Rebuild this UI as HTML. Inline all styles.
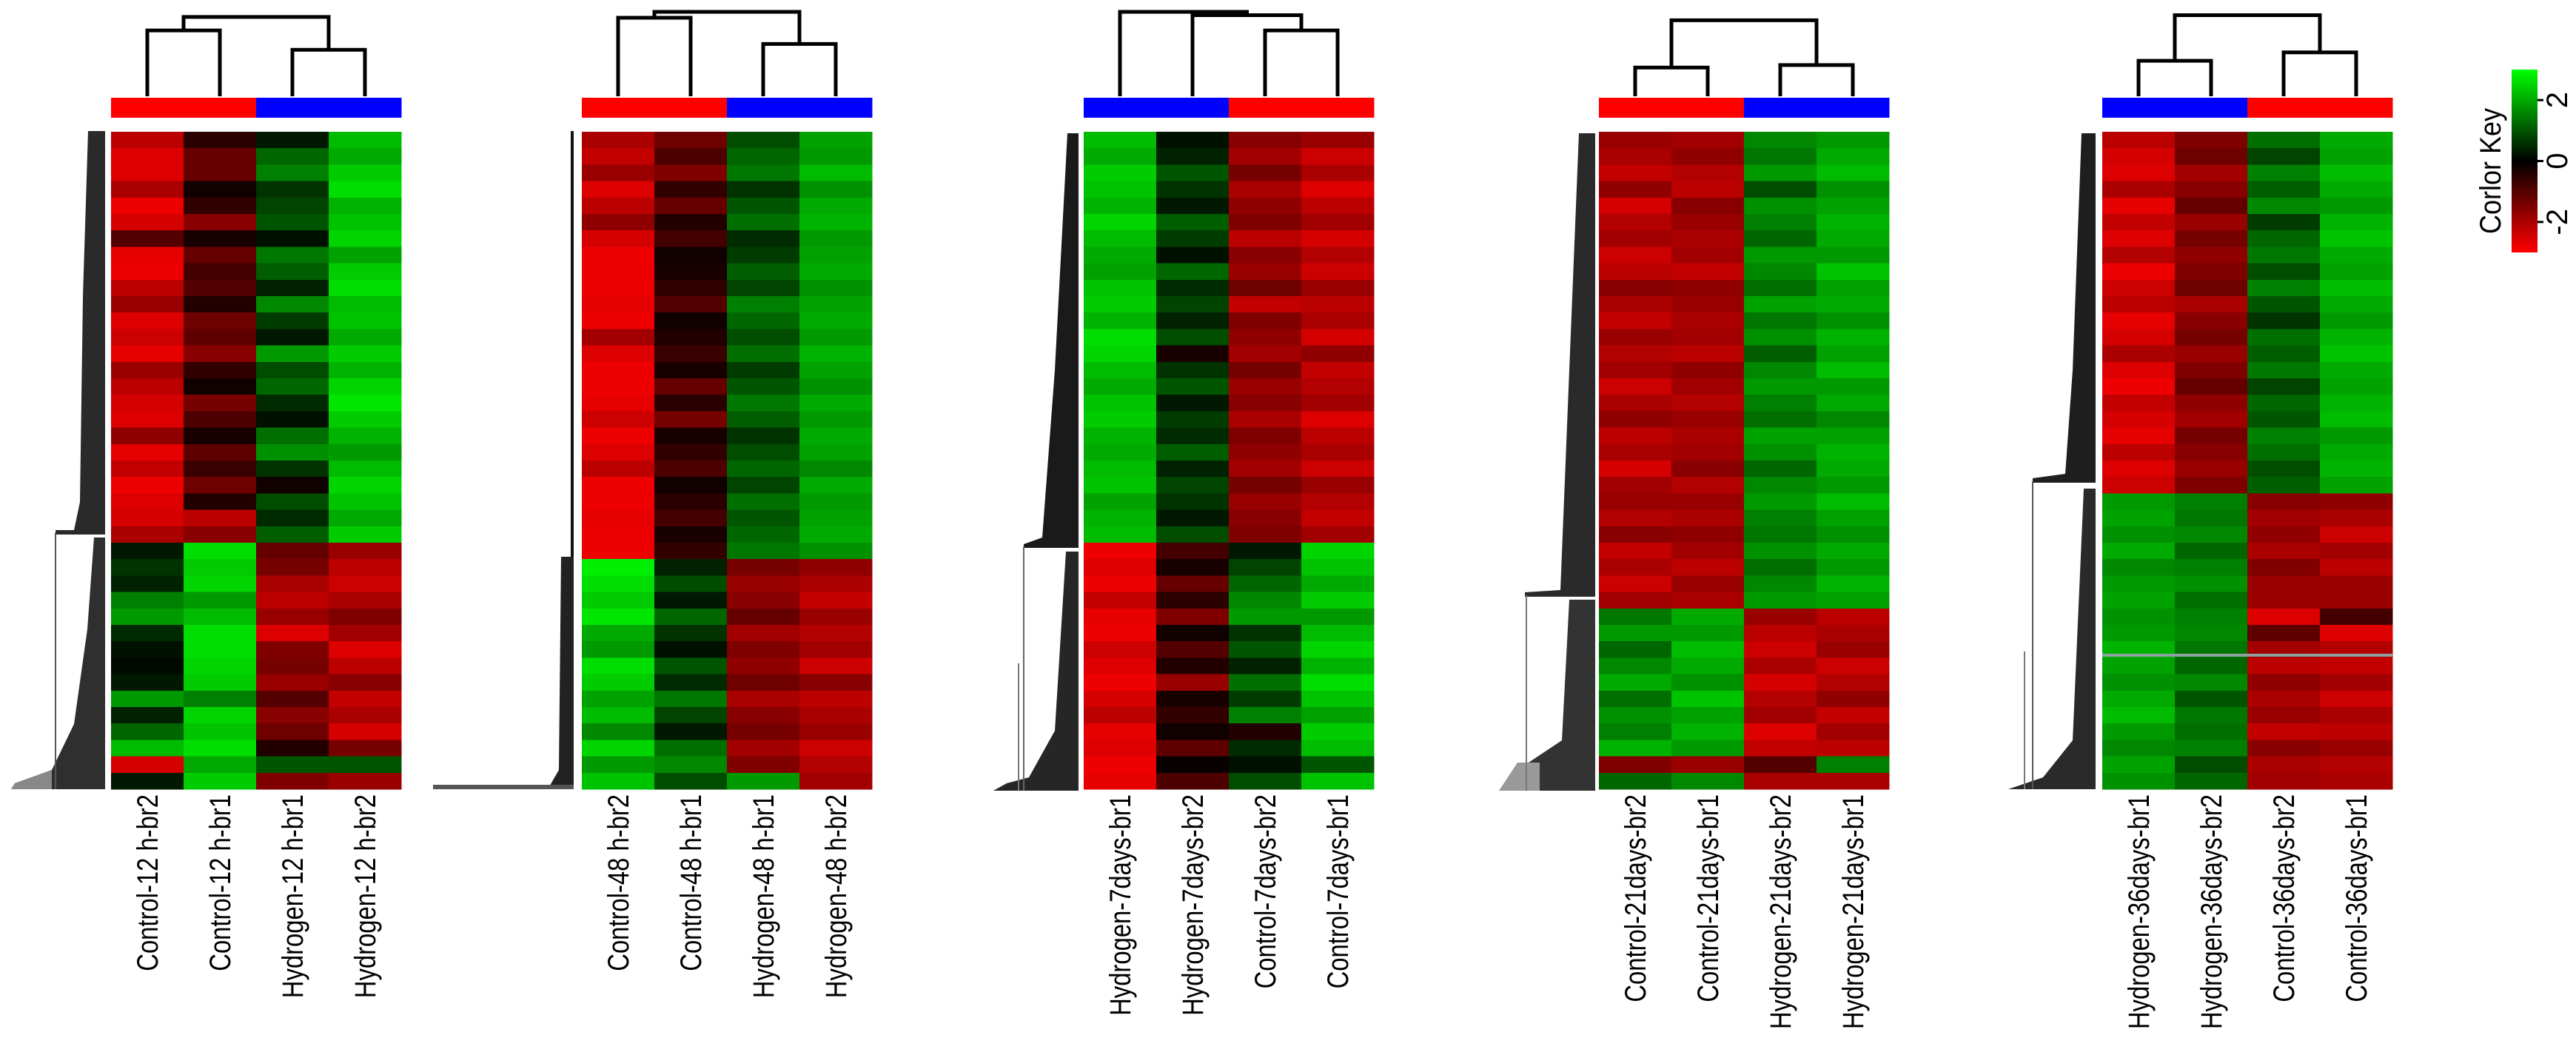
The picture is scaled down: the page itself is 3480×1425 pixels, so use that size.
<!DOCTYPE html>
<html><head><meta charset="utf-8"><style>
html,body{margin:0;padding:0;background:#fff;}
svg{display:block;}
text{font-family:"Liberation Sans",Arial,sans-serif;}
</style></head>
<body>
<svg id="fig" width="3480" height="1425" viewBox="0 0 3480 1425" xmlns="http://www.w3.org/2000/svg">
<defs>
<linearGradient id="keyGrad" x1="0" y1="0" x2="0" y2="1">
<stop offset="0" stop-color="#00ff00"/><stop offset="0.5" stop-color="#000"/><stop offset="1" stop-color="#ff0000"/>
</linearGradient>
</defs>
<g id="rowDendros">
 <polygon points="119,177 142,177 142,722 75,722 75,716 100,716 108,678 112,400" fill="#2a2a2a"/>
 <polygon points="127,726 142,726 142,1066 15,1066 20,1058 70,1040 100,978 118,850" fill="#2f2f2f"/>
 <polygon points="20,1058 70,1040 70,1066 15,1066" fill="#888"/>
 <line x1="75" y1="720" x2="75" y2="1066" stroke="#555" stroke-width="2"/>
 <rect x="771" y="177" width="4" height="889" fill="#111"/>
 <polygon points="758,752 775,752 775,1066 740,1066 755,1040" fill="#222"/>
 <rect x="585" y="1060" width="190" height="6" fill="#555"/>
 <polygon points="1442,180 1457,180 1457,740 1383,740 1383,735 1408,726 1425,500" fill="#1a1a1a"/>
 <polygon points="1440,745 1457,745 1457,1068 1342,1068 1360,1058 1390,1050 1425,987" fill="#262626"/>
 <line x1="1383" y1="738" x2="1383" y2="1068" stroke="#666" stroke-width="2"/>
 <line x1="1376" y1="896" x2="1376" y2="1068" stroke="#777" stroke-width="2"/>
 <polygon points="2133,180 2155,180 2155,806 2060,806 2060,800 2108,797 2120,500" fill="#2a2a2a"/>
 <polygon points="2120,810 2155,810 2155,1068 2025,1068 2050,1040 2110,1000" fill="#333"/>
 <polygon points="2025,1068 2050,1030 2080,1030 2080,1068" fill="#999"/>
 <line x1="2062" y1="804" x2="2062" y2="1068" stroke="#777" stroke-width="2"/>
 <polygon points="2812,180 2831,180 2831,652 2746,652 2746,646 2790,640 2800,500" fill="#1e1e1e"/>
 <polygon points="2815,660 2831,660 2831,1066 2713,1066 2760,1050 2800,1000" fill="#2a2a2a"/>
 <line x1="2746" y1="650" x2="2746" y2="1066" stroke="#555" stroke-width="2"/>
 <line x1="2735" y1="880" x2="2735" y2="1066" stroke="#777" stroke-width="2"/>
</g>
<g id="panels"></g>
<g id="colorKey">
 <rect x="3393" y="94" width="35" height="247" fill="url(#keyGrad)"/>
 <text transform="translate(3378,231) rotate(-90) scale(0.9,1)" text-anchor="middle" font-size="40" fill="#000">Corlor Key</text>
</g>
</svg>
<script>
// ---------- data ----------
const panelLabels1 = ["Control-12 h-br2","Control-12 h-br1","Hydrogen-12 h-br1","Hydrogen-12 h-br2"];
const panelLabels2 = ["Control-48 h-br2","Control-48 h-br1","Hydrogen-48 h-br1","Hydrogen-48 h-br2"];
const panelLabels3 = ["Hydrogen-7days-br1","Hydrogen-7days-br2","Control-7days-br2","Control-7days-br1"];
const panelLabels4 = ["Control-21days-br2","Control-21days-br1","Hydrogen-21days-br2","Hydrogen-21days-br1"];
const panelLabels5 = ["Hydrogen-36days-br1","Hydrogen-36days-br2","Control-36days-br2","Control-36days-br1"];
const groups1 = ["control","control","hydrogen","hydrogen"];
const groups2 = ["control","control","hydrogen","hydrogen"];
const groups3 = ["hydrogen","hydrogen","control","control"];
const groups4 = ["control","control","hydrogen","hydrogen"];
const groups5 = ["hydrogen","hydrogen","control","control"];
const merges1 = [[0,1,0.78],[2,3,0.55],["a","b",0.94]];
const merges2 = [[0,1,0.93],[2,3,0.62],["a","b",1.0]];
const merges3 = [[2,3,0.78],[1,"a",0.96],[0,"b",1.0]];
const merges4 = [[0,1,0.34],[2,3,0.37],["a","b",0.90]];
const merges5 = [[0,1,0.42],[2,3,0.52],["a","b",0.96]];

const p1c1 = [-2.2,-2.6,-2.6,-2,-2.8,-2.5,-1,-2.7,-2.8,-2.2,-1.8,-2.6,-2.4,-2.7,-1.8,-2.2,-2.5,-2.6,-1.7,-2.7,-2.3,-2.8,-2.6,-2.5,-2.0,0.3,0.6,0.4,1.5,1.8,0.5,0.2,0.1,0.3,1.8,0.4,1.2,2.2,-2.5,0.3];
const p1c2 = [-0.5,-1.2,-1.2,-0.2,-0.6,-1.6,-0.3,-1.2,-0.8,-1.0,-0.4,-1.3,-1.1,-1.6,-0.6,-0.2,-1.4,-0.9,-0.3,-1.1,-0.7,-1.3,-0.4,-2.2,-1.6,2.6,2.4,2.5,1.8,2.2,2.6,2.6,2.5,2.4,1.5,2.5,2.3,2.6,2.0,2.4];
const p1c3 = [0.3,1.2,1.5,0.6,0.8,1.0,0.2,1.4,1.1,0.4,1.6,0.7,0.3,1.8,0.9,1.2,0.5,0.2,1.3,1.7,0.6,-0.2,0.9,0.5,1.1,-1.2,-1.4,-2.0,-2.2,-1.8,-2.6,-1.5,-1.4,-1.8,-1.0,-1.6,-1.3,-0.4,1.0,-1.5];
const p1c4 = [2.2,2.0,2.4,2.6,2.1,2.3,2.5,1.9,2.4,2.6,2.2,2.3,2.0,2.4,2.1,2.5,2.7,2.4,2.1,1.8,2.2,2.5,2.3,2.0,2.4,-1.8,-2.2,-2.4,-2.0,-1.5,-1.9,-2.6,-2.2,-1.6,-2.3,-2.0,-2.5,-1.4,1.0,-1.8];

const p2c1 = [-2.0,-2.3,-1.8,-2.6,-2.2,-1.7,-2.5,-2.8,-2.8,-2.8,-2.7,-2.8,-1.9,-2.6,-2.8,-2.8,-2.7,-2.4,-2.8,-2.6,-2.2,-2.8,-2.8,-2.7,-2.8,-2.8,2.8,2.6,2.4,2.7,2.0,1.8,2.6,2.4,1.9,2.2,1.6,2.5,1.8,2.3];
const p2c2 = [-1.3,-0.9,-1.5,-0.6,-1.2,-0.4,-0.8,-0.2,-0.3,-0.6,-1.0,-0.2,-0.4,-0.7,-0.3,-1.2,-0.5,-1.4,-0.3,-0.6,-0.9,-0.2,-0.5,-0.8,-0.3,-0.6,0.4,0.9,0.3,1.2,0.6,0.2,1.0,0.5,1.4,0.8,0.3,1.3,1.6,0.9];
const p2c3 = [0.9,1.2,1.4,0.6,1.0,1.3,0.5,0.7,1.1,0.8,1.5,1.2,0.9,1.3,0.7,1.0,1.4,1.1,0.6,0.9,1.2,0.8,1.3,1.0,1.2,1.4,-1.4,-1.8,-1.6,-1.2,-1.9,-1.5,-1.7,-1.3,-2.0,-1.6,-1.4,-1.9,-1.5,1.8];
const p2c4 = [1.9,1.8,2.2,1.7,2.0,2.1,1.8,1.9,2.0,1.7,1.9,2.0,1.8,2.1,1.9,1.7,2.0,1.8,2.0,1.9,1.6,2.0,1.8,1.9,2.0,1.7,-1.7,-2.0,-2.3,-1.8,-2.1,-1.9,-2.4,-1.6,-2.2,-2.0,-1.8,-2.4,-2.1,-1.9];

const p3c1 = [2.2,2.0,2.4,2.3,2.1,2.5,2.2,2.0,1.9,2.3,2.4,2.1,2.6,2.5,2.2,2.0,2.3,2.4,2.1,2.0,2.2,2.3,1.9,2.1,2.2,-2.8,-2.6,-2.8,-2.3,-2.7,-2.8,-2.4,-2.6,-2.8,-2.5,-2.2,-2.7,-2.6,-2.8,-2.7];
const p3c2 = [0.2,0.4,1.0,0.6,0.3,1.1,0.7,0.2,1.2,0.5,0.8,0.4,0.9,-0.3,0.6,1.0,0.3,0.7,0.5,1.1,0.4,0.8,0.6,0.3,0.9,-0.8,-0.3,-1.2,-0.5,-1.5,-0.2,-1.0,-0.4,-1.8,-0.3,-0.6,-0.2,-1.1,-0.1,-0.9];
const p3c3 = [-1.6,-1.9,-1.4,-2.0,-1.7,-1.5,-2.2,-1.6,-1.8,-1.3,-2.3,-1.5,-1.7,-1.9,-1.4,-1.8,-1.6,-2.0,-1.5,-1.7,-1.9,-1.4,-1.8,-1.6,-1.5,0.3,0.8,1.2,1.6,1.8,0.6,1.0,0.4,1.3,0.7,1.5,-0.4,0.5,0.2,0.9];
const p3c4 = [-1.8,-2.4,-2.0,-2.6,-2.2,-1.9,-2.5,-2.1,-2.4,-1.8,-2.2,-2.0,-2.5,-1.7,-2.3,-2.1,-1.9,-2.6,-2.2,-2.0,-2.4,-1.8,-2.1,-2.3,-1.9,2.5,2.3,2.0,2.4,1.8,2.2,2.5,2.1,2.6,2.3,1.9,2.4,2.2,1.0,2.3];

const p4c1 = [-1.8,-2.0,-2.3,-1.7,-2.5,-2.1,-1.9,-2.4,-2.2,-1.6,-2.0,-2.3,-1.8,-2.1,-1.9,-2.4,-2.0,-1.7,-2.2,-2.0,-2.5,-1.9,-1.8,-2.1,-1.6,-2.3,-2.0,-2.4,-1.9,1.4,1.8,1.2,1.6,2.0,1.3,1.7,1.5,2.1,-1.5,1.2];
const p4c2 = [-1.9,-1.7,-2.1,-2.2,-1.6,-1.8,-2.0,-1.9,-2.3,-1.7,-1.8,-2.0,-1.9,-2.2,-1.7,-1.9,-2.1,-1.8,-2.0,-1.9,-1.6,-2.1,-1.8,-2.0,-1.7,-1.9,-2.2,-1.8,-2.0,2.0,1.8,2.2,2.0,1.7,2.3,1.9,2.1,1.8,-1.8,1.6];
const p4c3 = [1.6,1.4,1.8,0.9,1.7,1.5,1.2,1.8,1.6,1.3,1.9,1.4,1.7,1.1,1.6,1.8,1.5,1.3,1.9,1.7,1.2,1.6,1.8,1.5,1.4,1.7,1.3,1.6,1.8,-1.8,-2.2,-2.4,-2.0,-2.5,-2.1,-1.9,-2.6,-2.3,-1.0,-2.0];
const p4c4 = [1.8,2.0,2.2,1.7,1.9,2.1,2.0,1.8,2.3,1.9,2.0,1.7,2.1,1.9,2.2,1.8,2.0,1.6,1.9,2.1,2.0,1.8,2.2,1.9,1.7,2.0,1.8,2.1,1.9,-2.2,-2.0,-1.8,-2.4,-2.1,-1.7,-2.3,-1.9,-2.2,1.5,-2.0];

const p5c1 = [-2.2,-2.5,-2.6,-2.0,-2.7,-2.3,-2.6,-2.1,-2.8,-2.4,-2.2,-2.7,-2.5,-2.0,-2.6,-2.8,-2.3,-2.5,-2.7,-2.2,-2.6,-2.4,1.8,1.9,1.7,2.0,1.6,1.8,1.9,1.7,1.8,2.1,1.9,1.7,2.0,2.2,1.8,1.6,1.9,1.7];
const p5c2 = [-1.5,-1.3,-1.9,-1.6,-1.2,-1.8,-1.4,-1.7,-1.5,-1.3,-2.0,-1.6,-1.4,-1.8,-1.5,-1.2,-1.7,-1.9,-1.4,-1.6,-1.8,-1.5,1.5,1.4,1.6,1.2,1.5,1.7,1.3,1.5,1.6,1.4,1.2,1.6,1.0,1.4,1.3,1.5,0.9,1.2];
const p5c3 = [1.3,0.8,1.5,1.1,1.6,0.7,1.2,1.4,0.9,1.5,1.0,0.6,1.3,1.1,1.4,0.8,1.2,1.0,1.5,1.3,0.9,1.1,-1.6,-1.9,-1.7,-2.0,-1.5,-1.8,-1.8,-2.6,-1.1,-1.9,-2.2,-1.7,-2.0,-1.8,-2.3,-1.6,-2.0,-1.9];
const p5c4 = [2.0,1.9,2.2,2.0,1.8,2.1,2.3,2.0,1.9,2.2,2.0,1.8,2.1,2.3,2.0,1.9,2.1,2.2,1.8,2.0,2.1,1.9,-1.7,-2.0,-2.4,-1.9,-2.2,-1.8,-1.8,-0.8,-2.6,-2.1,-2.3,-1.9,-2.4,-2.0,-2.2,-1.8,-2.1,-2.0];

const keyTicks = [-2, 0, 2];
const keyTickLabels = ["-2", "0", "2"];
const keyMin = -3, keyMax = 3;

// ---------- layout ----------
const NS = "http://www.w3.org/2000/svg";
const panelsG = document.getElementById('panels');
const panelLeft = [150, 786, 1464, 2160, 2840];
const panelW = 392, hmTop = 178, hmBot = 1066;
const dendTop = 10, dendBot = 130;
function mk(tag, attrs, parent){ const e=document.createElementNS(NS,tag); for(const k in attrs) e.setAttribute(k,attrs[k]); parent.appendChild(e); return e; }
function colorOf(v){ let t=Math.max(-1,Math.min(1,v/3)); return t<0?`rgb(${Math.round(-t*255)},0,0)`:`rgb(0,${Math.round(t*255)},0)`; }
function yScale(i,n){ return hmTop + (hmBot-hmTop)*i/n; }
function dendY(h){ return dendBot - (dendBot-dendTop-6)*h; }

const allPanels = [
 {labels:panelLabels1, groups:groups1, merges:merges1, cols:[p1c1,p1c2,p1c3,p1c4]},
 {labels:panelLabels2, groups:groups2, merges:merges2, cols:[p2c1,p2c2,p2c3,p2c4]},
 {labels:panelLabels3, groups:groups3, merges:merges3, cols:[p3c1,p3c2,p3c3,p3c4]},
 {labels:panelLabels4, groups:groups4, merges:merges4, cols:[p4c1,p4c2,p4c3,p4c4]},
 {labels:panelLabels5, groups:groups5, merges:merges5, cols:[p5c1,p5c2,p5c3,p5c4]}
];

allPanels.forEach((p,pi)=>{
  const x0 = panelLeft[pi], cw = panelW/p.cols.length;
  const g = mk('g',{},panelsG);
  
  
  p.cols.forEach((col,ci)=>{
    const n = col.length;
    col.forEach((v,ri)=>{
      const y1 = yScale(ri,n), y2 = yScale(ri+1,n);
      const r = mk('rect',{x:x0+ci*cw, y:y1, width:cw+0.5, height:y2-y1+0.5, fill:colorOf(v), 'shape-rendering':'crispEdges'},g);
      
      
    });
  });
  p.groups.forEach((gr,ci)=>{
    const r = mk('rect',{x:x0+ci*cw, y:132, width:cw+0.5, height:27, fill: gr==='control'?'#ff0000':'#0000ff'},g);
    
    
  });
  const nodes = {};
  const cx = i => x0 + cw*(i+0.5);
  const getNode = k => (typeof k==='number') ? {x:cx(k), y:dendBot} : nodes[k];
  const dg = mk('g',{fill:'none',stroke:'#000','stroke-width':5},g);
  
  
  const names = ["a","b","c"];
  p.merges.forEach((m,mi)=>{
    const a = getNode(m[0]), b = getNode(m[1]), y = dendY(m[2]);
    mk('path',{d:`M${a.x},${a.y} V${y} H${b.x} V${b.y}`},dg);
    nodes[names[mi]] = {x:(a.x+b.x)/2, y:y};
  });
  p.labels.forEach((lab,ci)=>{
    const t = mk('text',{transform:`translate(${cx(ci)+14},1073) rotate(-90) scale(0.82,1)`, 'text-anchor':'end', 'font-size':40, fill:'#000'},g);
    
    
    t.textContent = lab;
  });
});
const gl = mk('rect',{x:2840,y:883,width:392,height:4,fill:'#8fa0a0'},panelsG);



const keyG = document.getElementById('colorKey');
const keyY = v => 94 + (keyMax - v)/(keyMax-keyMin)*247;
keyTicks.forEach((v,i)=>{
  const tk = mk('line',{x1:3428,x2:3436,y1:keyY(v),y2:keyY(v),stroke:'#000','stroke-width':3},keyG);
  
  
  const t = mk('text',{transform:`translate(${3468},${keyY(v)}) rotate(-90)`, 'text-anchor':'middle', 'font-size':40, fill:'#000'},keyG);
  
  
  t.textContent = keyTickLabels[i];
});
</script>
</body></html>
